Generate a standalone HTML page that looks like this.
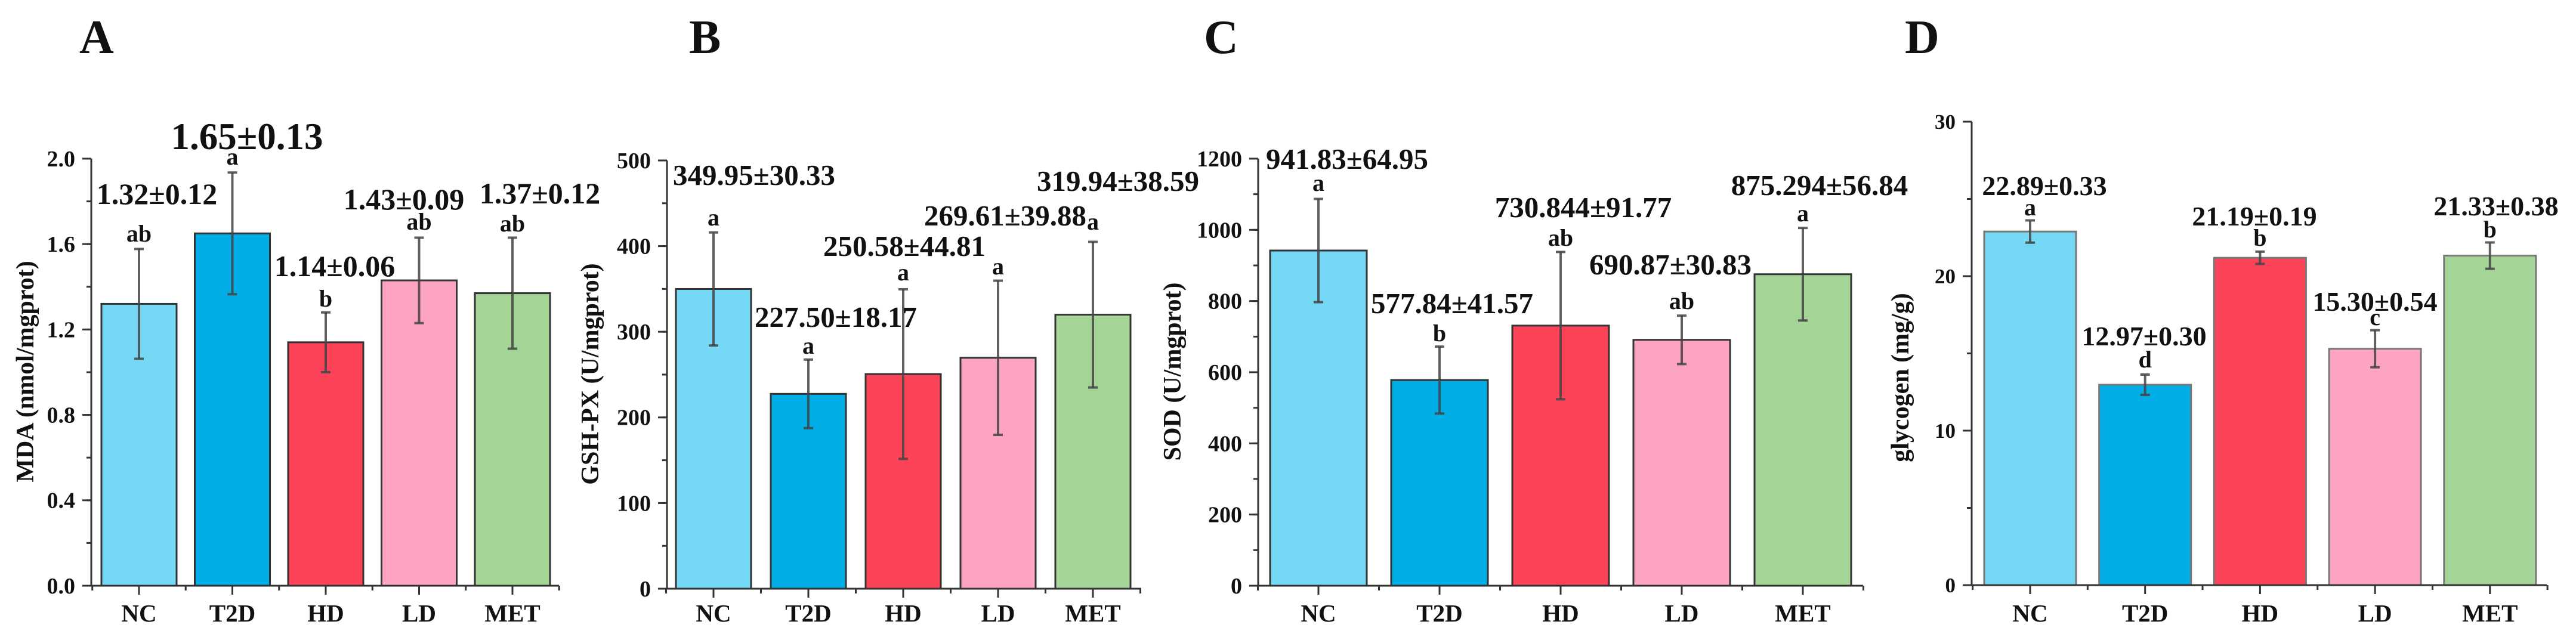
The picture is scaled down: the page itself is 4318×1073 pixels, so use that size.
<!DOCTYPE html>
<html><head><meta charset="utf-8">
<style>
html,body{margin:0;padding:0;background:#fff;}
svg text{font-family:"Liberation Serif",serif;font-weight:bold;fill:#111;}
</style></head>
<body>
<svg id="fig" width="4318" height="1068" viewBox="0 0 4318 1068" xmlns="http://www.w3.org/2000/svg"></svg>
<script>
const categories = ["NC","T2D","HD","LD","MET"];
const colors = ["#74d7f3","#00ade6","#fd4358","#fea4c3","#a4d496"];

// Panel A: MDA
const mdaValues = [1.32,1.65,1.14,1.43,1.37];
const mdaErr = [0.257,0.285,0.14,0.2,0.26];
const mdaLabels = ["1.32±0.12","1.65±0.13","1.14±0.06","1.43±0.09","1.37±0.12"];
const mdaLetters = ["ab","a","b","ab","ab"];
const mdaTicks = [0,0.4,0.8,1.2,1.6,2.0];
const mdaTickLabels = ["0.0","0.4","0.8","1.2","1.6","2.0"];

// Panel B: GSH-PX
const gshValues = [349.95,227.50,250.58,269.61,319.94];
const gshErr = [66,40,99,90,85];
const gshLabels = ["349.95±30.33","227.50±18.17","250.58±44.81","269.61±39.88","319.94±38.59"];
const gshLetters = ["a","a","a","a","a"];
const gshTicks = [0,100,200,300,400,500];
const gshTickLabels = ["0","100","200","300","400","500"];

// Panel C: SOD
const sodValues = [941.83,577.84,730.844,690.87,875.294];
const sodErr = [145,94,207,68,130];
const sodLabels = ["941.83±64.95","577.84±41.57","730.844±91.77","690.87±30.83","875.294±56.84"];
const sodLetters = ["a","b","ab","ab","a"];
const sodTicks = [0,200,400,600,800,1000,1200];
const sodTickLabels = ["0","200","400","600","800","1000","1200"];

// Panel D: glycogen
const glyValues = [22.89,12.97,21.19,15.30,21.33];
const glyErr = [0.72,0.66,0.4,1.2,0.85];
const glyLabels = ["22.89±0.33","12.97±0.30","21.19±0.19","15.30±0.54","21.33±0.38"];
const glyLetters = ["a","d","b","c","b"];
const glyTicks = [0,10,20,30];
const glyTickLabels = ["0","10","20","30"];

const NS="http://www.w3.org/2000/svg";
const svg=document.getElementById('fig');
function mk(tag,attrs,parent){const e=document.createElementNS(NS,tag);for(const k in attrs)e.setAttribute(k,attrs[k]);(parent||svg).appendChild(e);return e;}

const panels=[
 {key:"a",letter:"A",letterX:133,title:"MDA (nmol/mgprot)",titleX:42,titleY:623,ax:153,y0:982,y1:266,max:2.0,right:937,off:80,step:156.5,bw:126,minor:0.2,
  vals:mdaValues,err:mdaErr,labels:mdaLabels,letters:mdaLetters,ticks:mdaTicks,tickLabels:mdaTickLabels,
  lx:[263,414,561,677,905],ly:[342,250,463,351,341],lfs:[50,63,50,50,50],ty:[405,276,514,385,388],tickFs:38,border:"#333"},
 {key:"b",letter:"B",letterX:1155,title:"GSH-PX (U/mgprot)",titleX:989,titleY:627,ax:1118,y0:987,y1:269,max:500,right:1913,off:78,step:159,bw:126,minor:50,
  vals:gshValues,err:gshErr,labels:gshLabels,letters:gshLetters,ticks:gshTicks,tickLabels:gshTickLabels,
  lx:[1264,1401,1516,1685,1874],ly:[310,548,429,378,320],lfs:[49,49,49,49,49],ty:[378,593,470,460,385],tickFs:38,border:"#333"},
 {key:"c",letter:"C",letterX:2018,title:"SOD (U/mgprot)",titleX:1965,titleY:623,ax:2109,y0:982,y1:266,max:1200,right:3123,off:101,step:203,bw:162,minor:100,
  vals:sodValues,err:sodErr,labels:sodLabels,letters:sodLetters,ticks:sodTicks,tickLabels:sodTickLabels,
  lx:[2258,2434,2654,2800,3050],ly:[283,525,364,460,327],lfs:[49,49,49,49,49],ty:[320,572,412,518,371],tickFs:38,border:"#333"},
 {key:"d",letter:"D",letterX:3193,title:"glycogen (mg/g)",titleX:3185,titleY:633,ax:3305,y0:981,y1:204,max:30,right:4269,off:98,step:192.7,bw:154,minor:5,
  vals:glyValues,err:glyErr,labels:glyLabels,letters:glyLetters,ticks:glyTicks,tickLabels:glyTickLabels,
  lx:[3427,3594,3779,3981,4184],ly:[327,579,378,521,361],lfs:[46,46,46,46,46],ty:[361,616,412,545,398],tickFs:35,border:"#777"}
];

panels.forEach(p=>{
  const g=mk('g',{});
  
  
  const y=v=>p.y0-(v/p.max)*(p.y0-p.y1);
  const xc=i=>p.ax+p.off+i*p.step;
  const L=mk('text',{x:p.letterX,y:89,'font-size':80},g);L.textContent=p.letter;
  
  
  p.vals.forEach((v,i)=>{
    const r=mk('rect',{x:xc(i)-p.bw/2,y:y(v),width:p.bw,height:p.y0-y(v),fill:colors[i],stroke:p.border,'stroke-width':3},g);
    
    
  });
  p.vals.forEach((v,i)=>{
    const eg=mk('g',{stroke:'#444','stroke-width':4,'stroke-opacity':0.85},g);
    
    
    const t=y(v+p.err[i]),b=y(v-p.err[i]),x=xc(i);
    mk('line',{x1:x,x2:x,y1:t,y2:b},eg);
    mk('line',{x1:x-8,x2:x+8,y1:t,y2:t},eg);
    mk('line',{x1:x-8,x2:x+8,y1:b,y2:b},eg);
  });
  const axg=mk('g',{stroke:'#333','stroke-width':3},g);
  
  
  mk('line',{x1:p.ax,x2:p.ax,y1:p.y1,y2:p.y0+1},axg);
  mk('line',{x1:p.ax-2,x2:p.right,y1:p.y0,y2:p.y0},axg);
  for(let v=0;v<=p.max+1e-9;v+=p.minor){mk('line',{x1:p.ax-8,x2:p.ax,y1:y(v),y2:y(v)},axg);}
  p.ticks.forEach((v,i)=>{
    mk('line',{x1:p.ax-15,x2:p.ax,y1:y(v),y2:y(v)},axg);
    const t=mk('text',{x:p.ax-27,y:y(v)+p.tickFs*0.34,'font-size':p.tickFs,'text-anchor':'end'},g);
    t.textContent=p.tickLabels[i];
    
    
  });
  categories.forEach((c,i)=>{
    mk('line',{x1:xc(i),x2:xc(i),y1:p.y0,y2:p.y0+15},axg);
    mk('line',{x1:xc(i)+p.step/2,x2:xc(i)+p.step/2,y1:p.y0,y2:p.y0+8},axg);
    const t=mk('text',{x:xc(i),y:1042,'font-size':41,'text-anchor':'middle'},g);
    t.textContent=c;
    
    
  });
  mk('line',{x1:p.ax+p.off-p.step/2,x2:p.ax+p.off-p.step/2,y1:p.y0,y2:p.y0+8,stroke:'#333','stroke-width':3},g);
  const yt=mk('text',{x:p.titleX,y:p.titleY,'font-size':42,'text-anchor':'middle',transform:`rotate(-90 ${p.titleX} ${p.titleY})`,dy:14},g);
  yt.textContent=p.title;
  
  
  p.vals.forEach((v,i)=>{
    const t=mk('text',{x:p.lx[i],y:p.ly[i],'font-size':p.lfs[i],'text-anchor':'middle'},g);
    t.textContent=p.labels[i];
    
    
    const s=mk('text',{x:xc(i),y:p.ty[i],'font-size':40,'text-anchor':'middle'},g);
    s.textContent=p.letters[i];
    
    
  });
});
</script>
</body></html>
